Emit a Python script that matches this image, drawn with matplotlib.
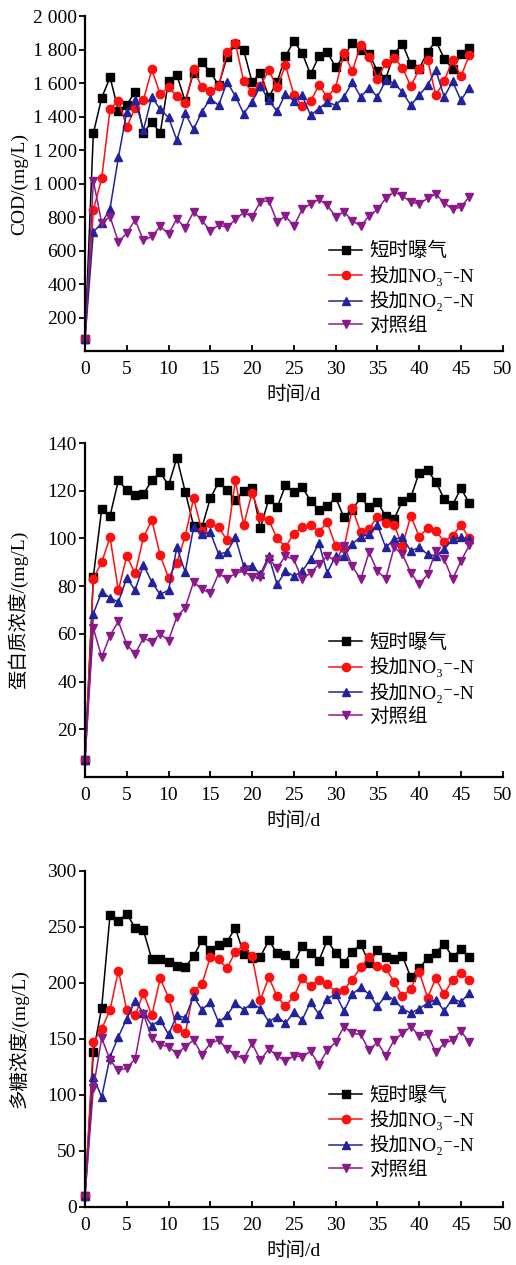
import numpy as np
import matplotlib
matplotlib.use('Agg')
import matplotlib.pyplot as plt

plt.rcParams['font.family'] = ['Liberation Serif', 'Noto Sans CJK SC', 'DejaVu Serif']
plt.rcParams['font.size'] = 14

days = np.arange(47)

labels = ['短时曝气', '投加NO\u2083\u207b-N', '投加NO\u2082\u207b-N', '对照组']

# COD (mg/L)
cod_aer = [70, 1300, 1512, 1634, 1435, 1470, 1548, 1303, 1369, 1300, 1614, 1648, 1490, 1663, 1723, 1667,
           1586, 1755, 1835, 1795, 1606, 1662, 1517, 1606, 1760, 1851, 1779, 1652, 1760, 1785, 1696, 1760,
           1841, 1795, 1775, 1672, 1626, 1775, 1835, 1712, 1686, 1785, 1851, 1746, 1686, 1771, 1811]
cod_no3 = [70, 842, 1031, 1445, 1494, 1339, 1450, 1500, 1681, 1534, 1574, 1522, 1478, 1681, 1574, 1553,
           1581, 1785, 1839, 1610, 1547, 1585, 1676, 1577, 1706, 1531, 1461, 1491, 1587, 1517, 1573, 1779,
           1670, 1829, 1755, 1626, 1720, 1751, 1692, 1581, 1682, 1740, 1527, 1612, 1740, 1640, 1765]
cod_no2 = [70, 712, 762, 851, 1156, 1429, 1500, 1321, 1518, 1443, 1395, 1259, 1419, 1323, 1429, 1507,
           1467, 1606, 1523, 1417, 1487, 1584, 1497, 1431, 1537, 1491, 1527, 1408, 1447, 1487, 1467, 1517,
           1606, 1517, 1573, 1517, 1616, 1600, 1547, 1467, 1527, 1587, 1676, 1517, 1610, 1497, 1573]
cod_ctrl = [70, 1017, 766, 802, 653, 703, 784, 660, 684, 744, 700, 789, 735, 832, 780, 717,
            752, 738, 786, 826, 802, 891, 897, 772, 806, 746, 846, 878, 905, 871, 802, 832,
            778, 746, 806, 846, 911, 951, 925, 891, 878, 911, 937, 885, 846, 860, 921]

# protein (mg/L)
pn_aer = [7, 84, 112.3, 109.5, 124.3, 120.3, 118.2, 118.6, 124.3, 127.8, 122.2, 133.8, 119.6, 105.3, 104.6, 116.8,
          123.6, 120.3, 116.1, 120, 121, 104.3, 116.5, 113, 122.2, 119.6, 121.5, 115.8, 112, 113.4, 117.2, 108.8,
          112, 117.2, 113, 115.4, 109.2, 108.1, 115.8, 117.2, 127.5, 128.5, 123.8, 116.5, 114, 121, 114.8]
pn_no3 = [7, 83.1, 90.1, 100.4, 78.2, 92.6, 85.3, 100.4, 107.7, 92.9, 83.5, 89.8, 101.1, 116.8, 103.2, 106.3,
          104.6, 99.3, 124.3, 105.6, 119.2, 108.8, 107.7, 100, 96.4, 102, 104.6, 105.6, 102.9, 106.7, 96.9, 96,
          112.6, 102.5, 103.9, 109.1, 106.4, 105.6, 96.9, 109.5, 100.8, 104.2, 103.2, 98.6, 101.1, 105.6, 100]
pn_no2 = [7, 68.5, 77.5, 75.1, 73.3, 83.5, 78.3, 88.9, 81.7, 76.5, 78.3, 96.2, 85.9, 104.6, 101.8, 102.5,
          93.4, 94.3, 100.4, 88.4, 88.4, 85, 92.6, 80.7, 86.3, 84.2, 86.3, 91.2, 98, 85.6, 92.6, 92.6,
          97.6, 100.8, 101.8, 105.6, 96.2, 99.7, 100.4, 94.8, 96.2, 93.4, 92.6, 95.5, 99.7, 100.4, 99.7]
pn_ctrl = [7, 62.4, 50.2, 59.3, 65.2, 55.5, 51.6, 58.2, 56.5, 60, 57.2, 67.2, 71, 81.8, 78.6, 77.2,
           85.3, 83.1, 85.3, 86.3, 83.8, 83.8, 91.5, 87.7, 92.6, 91.2, 82.8, 85.6, 89.1, 92.6, 90.5, 96.9,
           88.4, 82.8, 94.1, 86.3, 83.1, 96.2, 93.4, 85.6, 80.7, 84.9, 94.8, 91.2, 82.8, 90.5, 97.1]

# polysaccharide (mg/L)
ps_aer = [10, 138, 178, 261, 255, 262, 249, 247, 221, 221, 219, 215, 214, 224, 238, 229,
          234, 237, 249, 226, 222, 223.5, 238, 226.5, 225, 217.5, 233, 227, 220, 238, 227, 218,
          228, 234.5, 218, 229, 223, 221, 224, 205, 213, 222, 227, 235, 223, 230, 223]
ps_no3 = [10, 147, 159, 176, 211, 176, 171, 191, 171, 204, 187, 160, 155, 193, 199, 223,
          221, 213, 228, 233, 224, 185, 205, 188, 179, 188, 204, 197, 203, 199, 192, 194,
          203, 214, 223.5, 215, 213, 201, 188, 195, 210, 187, 204, 190, 203, 209, 203]
ps_no2 = [10, 116, 98, 134, 152, 168, 184, 173, 162, 167, 154, 171, 169, 188, 176, 183,
          165, 171, 182, 176, 182, 177, 165.5, 170, 164, 174, 167, 183, 172, 186, 190, 175,
          190, 196, 190, 179, 189, 185, 177, 173, 177, 182, 185, 175, 186, 183, 191]
ps_ctrl = [10, 106, 151, 131, 122, 124, 132, 172, 151, 145, 143, 137, 143, 149, 136, 146,
           149, 141, 136, 132, 146, 131, 141, 135, 130, 135, 134, 139, 127, 140, 147, 161,
           155, 154, 140, 147, 135, 149, 155, 161, 153, 154, 138, 146, 149, 157, 147]

colors = ['#000000', '#ff1010', '#22229c', '#8a1a8a']
markers = ['s', 'o', '^', 'v']

panels = [
    ([cod_aer, cod_no3, cod_no2, cod_ctrl], 'COD/(mg/L)', (0, 2000), np.arange(200, 2001, 200), 0.325),
    ([pn_aer, pn_no3, pn_no2, pn_ctrl], '蛋白质浓度/(mg/L)', (0, 140), np.arange(20, 141, 20), 0.429),
    ([ps_aer, ps_no3, ps_no2, ps_ctrl], '多糖浓度/(mg/L)', (0, 300), np.arange(0, 301, 50), 0.359),
]
axpos = [(0.1647, 0.7225, 0.8095, 0.2648),
         (0.1647, 0.3858, 0.8095, 0.2640),
         (0.1647, 0.0459, 0.8095, 0.2656)]

fig = plt.figure(figsize=(5.16, 12.65), dpi=100)

for (series, ylab, ylim, yticks, legy), pos in zip(panels, axpos):
    ax = fig.add_axes(pos)
    for s, c, m, lab in zip(series, colors, markers, labels):
        ax.plot(days, s, color=c, marker=m, ms=6, lw=1.1, label=lab, clip_on=False)
    ax.set_xlim(0, 50)
    ax.set_ylim(*ylim)
    ax.set_xticks(np.arange(0, 51, 5))
    ax.set_yticks(yticks)
    ax.set_yticklabels(['{:,}'.format(int(t)).replace(',', ' ') for t in yticks])
    ax.spines['top'].set_visible(False)
    ax.spines['right'].set_visible(False)
    ax.spines['left'].set_linewidth(1.6)
    ax.spines['bottom'].set_linewidth(1.6)
    ax.tick_params(axis='x', direction='in', length=4, width=1.3, pad=7, labelsize=14)
    ax.tick_params(axis='y', direction='out', length=4, width=1.3, pad=2, labelsize=14)
    ax.set_xlabel('时间/d', fontsize=14, labelpad=6)
    ax.set_ylabel(ylab, fontsize=14)
    ax.yaxis.set_label_coords(-0.135, 0.5)
    ax.legend(loc='upper left', bbox_to_anchor=(0.585, legy), frameon=False, fontsize=14,
              handlelength=1.7, handletextpad=0.35, labelspacing=0.25, borderpad=0,
              borderaxespad=0, markerscale=1.0)

fig.savefig('out.png', dpi=100)
